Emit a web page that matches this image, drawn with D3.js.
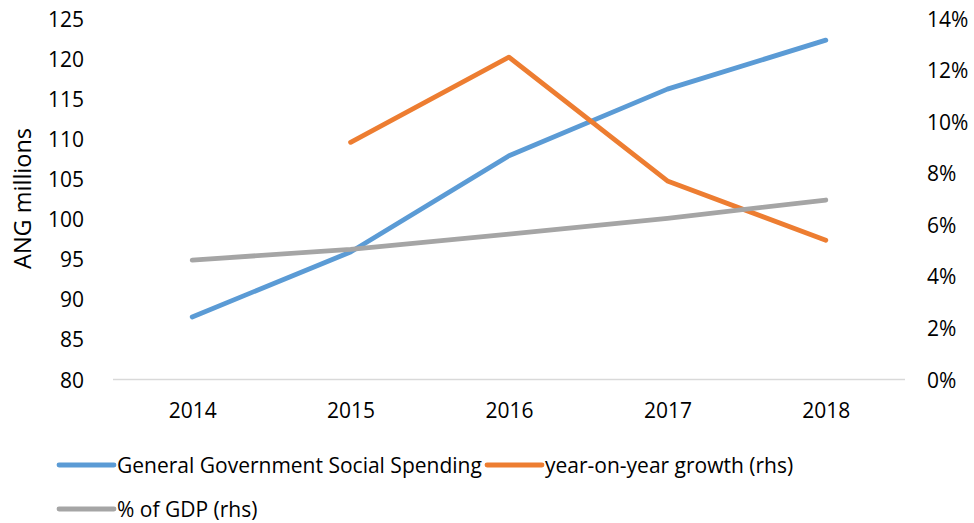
<!DOCTYPE html>
<html>
<head>
<meta charset="utf-8">
<script src="https://cdn.jsdelivr.net/npm/d3@7"></script>
<style>
  html, body { margin: 0; padding: 0; background: #fff; }
  svg text { font-family: "Open Sans", "Liberation Sans", Arial, sans-serif; fill: #000; }
</style>
</head>
<body>
<svg id="chart" width="974" height="523"></svg>
<script>
// Years on the category axis
const years = ["2014", "2015", "2016", "2017", "2018"];
// General government social spending, ANG millions (left axis)
const spending = [87.8, 95.9, 107.9, 116.2, 122.3];
// Year-on-year growth, percent (right axis); no value for the first year
const growth = [null, 9.2, 12.5, 7.7, 5.4];
// Spending as share of GDP, percent (right axis)
const gdpShare = [4.63, 5.05, 5.64, 6.25, 6.96];
// Axis ticks
const leftTicks = [80, 85, 90, 95, 100, 105, 110, 115, 120, 125];
const rightTicks = [0, 2, 4, 6, 8, 10, 12, 14];
const seriesNames = ["General Government Social Spending", "year-on-year growth (rhs)", "% of GDP (rhs)"];
const colors = ["#5B9BD5", "#ED7D31", "#A5A5A5"];

const svg = d3.select("#chart");
const plot = { left: 113, right: 905, top: 18.5, bottom: 379.5 };

const x = d3.scalePoint().domain(years).range([plot.left, plot.right]).padding(0.5);
const yL = d3.scaleLinear().domain([80, 125]).range([plot.bottom, plot.top]);
const yR = d3.scaleLinear().domain([0, 14]).range([plot.bottom, plot.top]);

const fs = 21;

// Baseline
svg.append("line")
  .attr("x1", plot.left).attr("x2", plot.right)
  .attr("y1", plot.bottom).attr("y2", plot.bottom)
  .attr("stroke", "#D9D9D9").attr("stroke-width", 1.3);

// Left axis labels
const axL = d3.axisLeft(yL).tickValues(leftTicks).tickSize(0).tickPadding(0);
const gL = svg.append("g").attr("transform", "translate(84,0)").call(axL);
gL.select(".domain").remove();
gL.selectAll("text").style("font-size", fs + "px").attr("dy", "0.36em");

// Right axis labels
const axR = d3.axisRight(yR).tickValues(rightTicks).tickSize(0).tickPadding(0).tickFormat(d => d + "%");
const gR = svg.append("g").attr("transform", "translate(927,0)").call(axR);
gR.select(".domain").remove();
gR.selectAll("text").style("font-size", fs + "px").attr("dy", "0.36em");

// Category labels
const axB = d3.axisBottom(x).tickSize(0).tickPadding(0);
const gB = svg.append("g").attr("transform", "translate(0,410.5)").call(axB);
gB.select(".domain").remove();
gB.selectAll("text").style("font-size", fs + "px").attr("dy", "0.36em");

// Left axis title
svg.append("text")
  .attr("transform", "translate(30.5,198.5) rotate(-90)")
  .attr("text-anchor", "middle")
  .style("font-size", "23.5px")
  .text("ANG millions");

// Series lines
const lineL = d3.line().defined(d => d.v != null).x(d => x(d.year)).y(d => yL(d.v));
const lineR = d3.line().defined(d => d.v != null).x(d => x(d.year)).y(d => yR(d.v));
const toPts = arr => arr.map((v, i) => ({ year: years[i], v }));

const series = [
  { path: lineL(toPts(spending)), color: colors[0] },
  { path: lineR(toPts(growth)), color: colors[1] },
  { path: lineR(toPts(gdpShare)), color: colors[2] }
];
// Draw order: spending, growth, GDP share on top
svg.append("g").selectAll("path").data(series).join("path")
  .attr("d", d => d.path)
  .attr("fill", "none")
  .attr("stroke", d => d.color)
  .attr("stroke-width", 4.8)
  .attr("stroke-linecap", "round")
  .attr("stroke-linejoin", "round");

// Legend
const legendItems = [
  { name: seriesNames[0], color: colors[0], x: 59, y: 465 },
  { name: seriesNames[1], color: colors[1], x: 487, y: 465 },
  { name: seriesNames[2], color: colors[2], x: 59, y: 509 }
];
const lg = svg.append("g").selectAll("g").data(legendItems).join("g")
  .attr("transform", d => `translate(${d.x},${d.y})`);
lg.append("line")
  .attr("x1", 0).attr("x2", 55).attr("y1", 0).attr("y2", 0)
  .attr("stroke", d => d.color).attr("stroke-width", 4.8).attr("stroke-linecap", "round");
lg.append("text")
  .attr("x", 58).attr("dy", "0.36em")
  .style("font-size", fs + "px")
  .text(d => d.name);
</script>
</body>
</html>
